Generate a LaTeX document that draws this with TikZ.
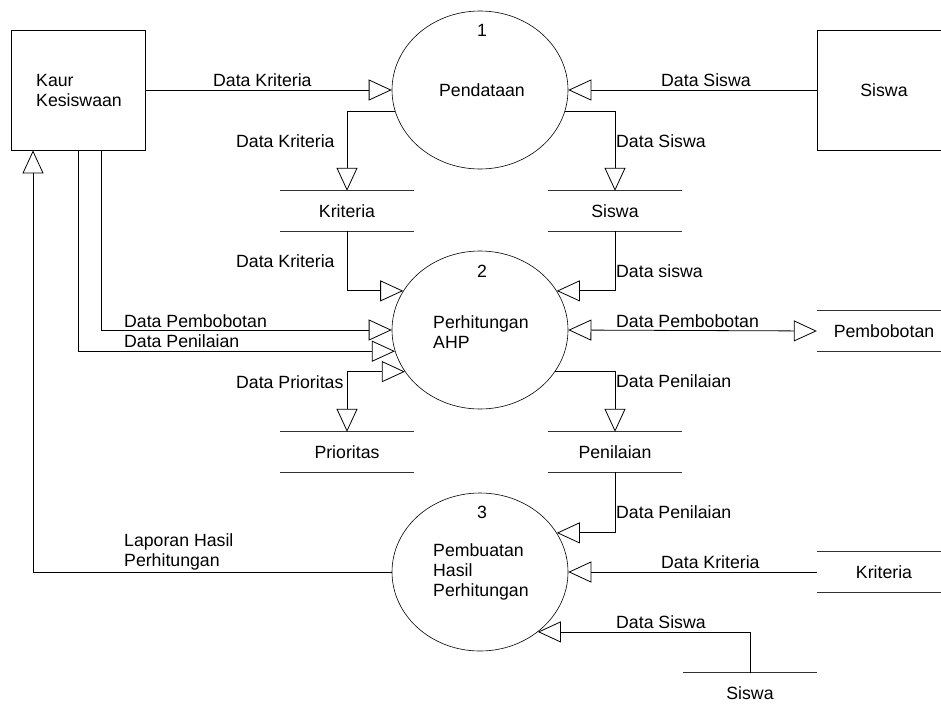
\documentclass[tikz,border=0pt]{standalone}
\usepackage{fontspec}
\setmainfont{Liberation Sans}
\usetikzlibrary{arrows.meta,shapes.geometric}
\begin{document}
\begin{tikzpicture}[x=1pt,y=-1pt,font=\fontsize{17.7}{20}\selectfont,
  proc/.style={draw,ellipse,minimum width=176pt,minimum height=158pt,inner sep=0pt,line width=0.6pt},
  entity/.style={draw,minimum width=134pt,minimum height=120pt,line width=0.8pt},
  store/.style={minimum width=134pt,minimum height=40pt,inner sep=0pt},
  storeline/.style={line width=0.8pt,black!80},
  lbl/.style={anchor=west,inner sep=0pt},
  flow/.style={line width=0.8pt,-{Triangle[open,length=23pt,width=21pt]}},
  twoway/.style={line width=0.8pt,{Triangle[open,length=23pt,width=21pt]}-{Triangle[open,length=23pt,width=21pt]}}]
                \useasboundingbox (0,0) rectangle (941,709);
                % entities
                \node[entity] (kaur) at (78,90) {};
                \node[lbl,align=left] (kaurtxt) at (36,90) {Kaur\\Kesiswaan};
                \node[entity] (siswa) at (884,90) {};
                \node (siswatxt) at (884,90) {Siswa};
                % processes
                \node[proc] (p1) at (480,90) {};
                \node (p1num) at (482,30) {1};
                \node (p1txt) at (482,90) {Pendataan};
                \node[proc] (p2) at (480,330) {};
                \node (p2num) at (482,271) {2};
                \node[lbl,align=left] (p2txt) at (433,332) {Perhitungan\\AHP};
                \node[proc] (p3) at (480,572) {};
                \node (p3num) at (482,512) {3};
                \node[lbl,align=left] (p3txt) at (433,572) {Pembuatan\\Hasil\\Perhitungan};
                % data stores
                \node[store] (kritA) at (347,211) {Kriteria};
                \node[store] (sisA) at (615,211) {Siswa};
                \node[store] (prio) at (347,452) {Prioritas};
                \node[store] (peni) at (615,452) {Penilaian};
                \node[store] (bobot) at (884,331) {Pembobotan};
                \node[store] (kritB) at (884,572) {Kriteria};
                \node[store] (sisB) at (750,693) {Siswa};
                \foreach \s in {kritA,sisA,prio,peni,bobot,kritB,sisB}
                  \draw[storeline] (\s.north west) -- (\s.north east) (\s.south west) -- (\s.south east);
                % flows
                \draw[flow] (kaur.east) -- (p1.west);
                \draw[flow] (siswa.west) -- (p1.east);
                \draw[flow] (p1.194) -| (kritA.north);
                \draw[flow] (p1.-14) -| (sisA.north);
                \draw[flow] (kritA.south) |- (p2.153);
                \draw[flow] (sisA.south) |- (p2.27);
                \draw[flow] ([xshift=23pt]kaur.south) |- (p2.west);
                \draw[flow] (kaur.south) |- (p2.194);
                \draw[twoway] (p2.east) -- (bobot.west);
                \draw[twoway] (p2.209) -| (prio.north);
                \draw[flow] (p2.-29) -| (peni.north);
                \draw[flow] (peni.south) |- (p3.27);
                \draw[flow] (kritB.west) -- (p3.east);
                \draw[flow] (sisB.north) |- (p3.-46);
                \draw[flow] (p3.west) -| ([xshift=-45pt]kaur.south);
                % labels
                \node[lbl] (l1) at (213,80) {Data Kriteria};
                \node[lbl] (l2) at (661,80) {Data Siswa};
                \node[lbl] (l3) at (236,141) {Data Kriteria};
                \node[lbl] (l4) at (616,141) {Data Siswa};
                \node[lbl] (l5) at (236,261) {Data Kriteria};
                \node[lbl] (l6) at (616,271) {Data siswa};
                \node[lbl] (l7) at (124,321) {Data Pembobotan};
                \node[lbl] (l8) at (124,341) {Data Penilaian};
                \node[lbl] (l9) at (616,321) {Data Pembobotan};
                \node[lbl] (l10) at (236,382) {Data Prioritas};
                \node[lbl] (l11) at (616,381) {Data Penilaian};
                \node[lbl] (l12) at (616,512) {Data Penilaian};
                \node[lbl] (l13) at (661,562) {Data Kriteria};
                \node[lbl] (l14) at (616,622) {Data Siswa};
                \node[lbl,align=left] (l15) at (124,552) {Laporan Hasil\\Perhitungan};
\end{tikzpicture}
\end{document}
